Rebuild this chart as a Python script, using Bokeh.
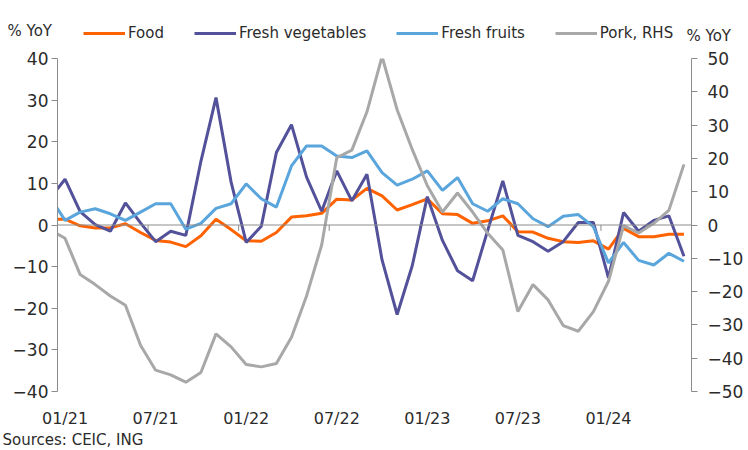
from bokeh.plotting import figure
from bokeh.layouts import column
from bokeh.models import (Range1d, LinearAxis, FixedTicker, Span, Legend, LegendItem, Title)
from bokeh.core.properties import value
from bokeh.embed import file_html
from bokeh.resources import INLINE

months = ["12/20",
          "01/21", "02/21", "03/21", "04/21", "05/21", "06/21", "07/21", "08/21", "09/21", "10/21", "11/21", "12/21",
          "01/22", "02/22", "03/22", "04/22", "05/22", "06/22", "07/22", "08/22", "09/22", "10/22", "11/22", "12/22",
          "01/23", "02/23", "03/23", "04/23", "05/23", "06/23", "07/23", "08/23", "09/23", "10/23", "11/23", "12/23",
          "01/24", "02/24", "03/24", "04/24", "05/24", "06/24"]

food = [1.4,
        1.4, -0.2, -0.7, -0.7, 0.3, -1.8, -3.7, -4.1, -5.2, -2.6, 1.4, -1.1,
        -3.8, -3.9, -1.8, 1.9, 2.2, 2.8, 6.2, 6.0, 8.8, 7.0, 3.6, 4.9,
        6.3, 2.7, 2.5, 0.4, 1.0, 2.2, -1.6, -1.7, -3.2, -4.0, -4.2, -3.8,
        -5.8, -0.8, -2.8, -2.8, -2.2, -2.2]

fresh_veg = [6.4,
             11.0, 3.2, 0.1, -1.5, 5.3, 0.5, -4.0, -1.5, -2.5, 15.3, 30.6, 10.3,
             -4.2, -0.3, 17.4, 24.1, 11.5, 3.3, 13.0, 5.8, 12.2, -8.4, -21.5, -9.8,
             6.8, -3.7, -11.0, -13.4, -1.3, 10.6, -2.5, -4.0, -6.3, -4.0, 0.6, 0.6,
             -12.7, 3.0, -1.5, 1.1, 2.2, -7.5]

fresh_fruit = [6.7,
               1.1, 3.1, 3.9, 2.7, 1.1, 3.1, 5.1, 5.1, -1.0, 0.4, 4.0, 5.1,
               9.9, 6.3, 4.3, 14.2, 19.0, 19.0, 16.6, 16.2, 17.8, 12.6, 9.6, 11.0,
               13.0, 8.3, 11.4, 5.1, 3.3, 6.3, 5.1, 1.5, -0.4, 2.1, 2.5, -0.4,
               -9.1, -4.2, -8.5, -9.6, -6.8, -8.7]

pork = [-1.4,
        -4.0, -14.9, -17.9, -21.3, -24.1, -36.1, -43.6, -45.0, -47.2, -44.3, -32.7, -36.6,
        -41.9, -42.6, -41.6, -33.7, -21.3, -6.0, 20.2, 22.5, 34.0, 50.6, 34.6, 22.7,
        11.8, 3.9, 9.6, 3.9, -2.5, -7.5, -26.0, -17.9, -22.5, -30.2, -31.9, -26.0,
        -16.9, -0.2, -2.4, 0.5, 4.4, 18.2]

x_tick_labels = ["01/21", "07/21", "01/22", "07/22", "01/23", "07/23", "01/24"]
left_ticks = [-40, -30, -20, -10, 0, 10, 20, 30, 40]
right_ticks = [-50, -40, -30, -20, -10, 0, 10, 20, 30, 40, 50]

series_names = ["Food", "Fresh vegetables", "Fresh fruits", "Pork, RHS"]
colors = ["#FF6200", "#525199", "#5AA5DC", "#A8A8A8"]
unit_label = "% YoY"
source_text = "Sources: CEIC, ING"

FONT = "DejaVu Sans"
TXT = "#2B2B2B"
AXC = "#8C8C8C"
W = 748
NAN = float("nan")


def bare(fig):
    fig.grid.visible = False
    fig.outline_line_color = None
    fig.background_fill_color = "white"
    fig.border_fill_color = "white"
    if "frame_align" in fig.properties():
        fig.frame_align = False
    return fig


# ---------- header: unit labels + legend ----------
HH = 50
header = bare(figure(width=W, height=HH, x_range=Range1d(0, W), y_range=Range1d(HH, 0),
                     x_axis_type=None, y_axis_type=None, output_backend="svg",
                     toolbar_location=None, min_border=0, min_border_left=0,
                     min_border_right=0, min_border_top=0, min_border_bottom=0))
header.text(x=[7, 686], y=[30, 35], text=[unit_label, unit_label],
            text_font=value(FONT), text_font_size="15px", text_color=TXT,
            text_baseline="alphabetic", text_align="left")
# legend swatches (no visible data in the header)
dummy = [header.line(x=[0, 1], y=[NAN, NAN], line_color=c, line_width=3) for c in colors]
legend = Legend(items=[LegendItem(label=n, renderers=[r]) for n, r in zip(series_names, dummy)],
                orientation="horizontal", location=(83, 7),
                glyph_width=42, glyph_height=20, label_height=20, label_standoff=3,
                spacing=30, padding=0, margin=0,
                border_line_color=None, background_fill_alpha=0,
                label_text_font=FONT, label_text_font_size="15px", label_text_color=TXT)
header.add_layout(legend)

# ---------- main chart ----------
MH = 450 - HH
x = list(range(len(months)))
label_pos = [months.index(m) for m in x_tick_labels]
between = [t - 0.5 for t in label_pos[1:]]

p = bare(figure(width=W, height=MH, x_range=Range1d(0.5, len(months) - 0.5),
                y_range=Range1d(left_ticks[0], left_ticks[-1]),
                output_backend="svg", toolbar_location=None,
                min_border_left=57, min_border_right=57, min_border_top=8, min_border_bottom=55))
p.extra_y_ranges = {"pork": Range1d(right_ticks[0], right_ticks[-1])}

p.xaxis.ticker = FixedTicker(ticks=label_pos)
p.xaxis.major_label_overrides = {pos: lab for pos, lab in zip(label_pos, x_tick_labels)}
p.xaxis.axis_line_color = None
p.xaxis.major_tick_line_color = None
p.xaxis.major_tick_out = 0
p.xaxis.major_tick_in = 0
p.xaxis.minor_tick_line_color = None
p.xaxis.major_label_standoff = 17
p.xaxis.major_label_text_font = FONT
p.xaxis.major_label_text_font_size = "16px"
p.xaxis.major_label_text_color = TXT

p.yaxis.ticker = FixedTicker(ticks=left_ticks)
p.yaxis.axis_line_color = AXC
p.yaxis.major_tick_line_color = AXC
p.yaxis.major_tick_out = 6
p.yaxis.major_tick_in = 0
p.yaxis.minor_tick_line_color = None
p.yaxis.major_label_standoff = 3
p.yaxis.major_label_text_font = FONT
p.yaxis.major_label_text_font_size = "17px"
p.yaxis.major_label_text_color = TXT

ax_r = LinearAxis(y_range_name="pork", ticker=FixedTicker(ticks=right_ticks))
ax_r.axis_line_color = AXC
ax_r.major_tick_line_color = AXC
ax_r.major_tick_out = 6
ax_r.major_tick_in = 0
ax_r.minor_tick_line_color = None
ax_r.major_label_standoff = 10
ax_r.major_label_text_font = FONT
ax_r.major_label_text_font_size = "17px"
ax_r.major_label_text_color = TXT
p.add_layout(ax_r, "right")

p.add_layout(Span(location=0, dimension="width", line_color=AXC, line_width=1))
p.segment(x0=between, y0=[0] * len(between), x1=between, y1=[-1.4] * len(between),
          line_color=AXC, line_width=1)

for ys, c in zip([food, fresh_veg, fresh_fruit], colors[:3]):
    p.line(x, ys, line_color=c, line_width=3)
p.line(x, pork, line_color=colors[3], line_width=3, y_range_name="pork")

# source note under the date labels
p.add_layout(Title(text=source_text, align="left", offset=-55, standoff=0,
                   vertical_align="top", text_font=FONT, text_font_size="15px",
                   text_font_style="normal", text_color=TXT), "below")

layout = column(header, p, spacing=0)
open("out.html", "w").write(file_html(layout, INLINE))
